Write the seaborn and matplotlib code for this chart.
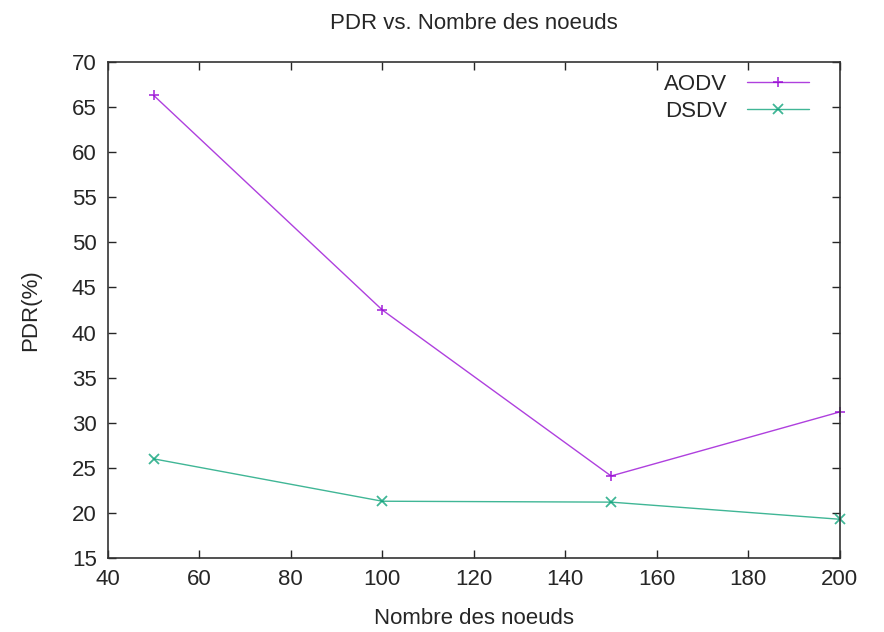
import matplotlib
matplotlib.use("Agg")
import matplotlib.pyplot as plt
import seaborn as sns

# data
noeuds = [50, 100, 150, 200]
aodv = [66.3, 42.5, 24.1, 31.2]
dsdv = [26.0, 21.3, 21.2, 19.3]

sns.set_style("ticks")
plt.rcParams['font.family'] = ['Liberation Sans', 'DejaVu Sans']

fig = plt.figure(figsize=(8.84, 6.32), dpi=100)
ax = fig.add_axes([0.122, 0.117, 0.828, 0.785])

series = [("AODV", aodv, "#9400d3", "+"), ("DSDV", dsdv, "#009e73", "x")]
for name, vals, col, mk in series:
    sns.lineplot(x=noeuds, y=vals, color=col, marker=mk, markersize=7,
                 markeredgewidth=1.3, markeredgecolor=col, linewidth=1.0,
                 alpha=0.75, label=name, ax=ax, clip_on=False)

ax.set_xlim(40, 200)
ax.set_ylim(15, 70)
ax.set_xticks(range(40, 201, 20))
ax.set_yticks(range(15, 71, 5))
ax.tick_params(direction="in", top=True, right=True, labelsize=16, length=6, width=1, pad=8)
for s in ax.spines.values():
    s.set_linewidth(1.2)
    s.set_color("#333333")

ax.set_xlabel("Nombre des noeuds", fontsize=16, labelpad=13)
ax.set_ylabel("PDR(%)", fontsize=16, labelpad=22)
ax.set_title("PDR vs. Nombre des noeuds", fontsize=16, pad=24)

leg = ax.legend(loc="upper right", frameon=False, markerfirst=False, fontsize=16,
                handlelength=2.8, handletextpad=0.9, borderaxespad=0.15,
                labelspacing=0.25, bbox_to_anchor=(0.975, 1.0))
for h in leg.legend_handles:
    h.set_alpha(0.75)

fig.savefig("out.png", dpi=100)
